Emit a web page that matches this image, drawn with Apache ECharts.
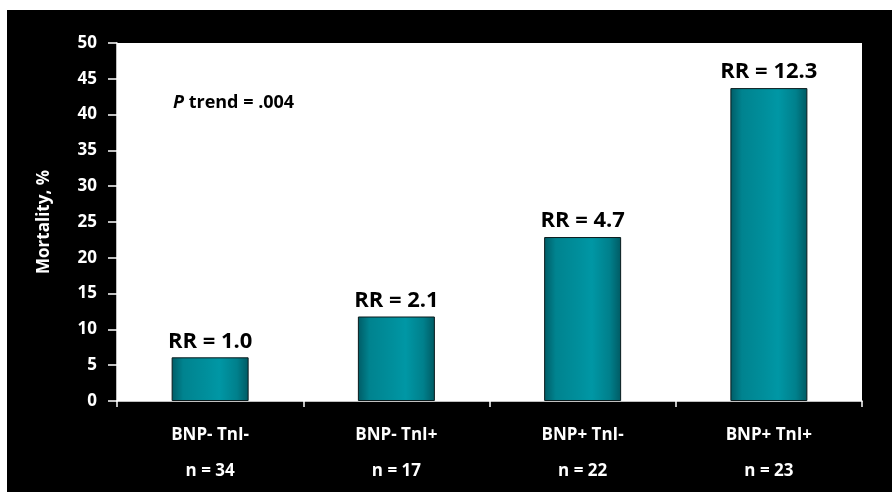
<!DOCTYPE html>
<html>
<head>
<meta charset="utf-8">
<script src="https://cdn.jsdelivr.net/npm/echarts@6/dist/echarts.min.js"></script>
<style>
  html, body { margin: 0; padding: 0; background: #ffffff; width: 892px; height: 492px; overflow: hidden; }
  #chart { position: absolute; left: 7px; top: 10px; width: 885px; height: 482px; }
</style>
</head>
<body>
<div id="chart"></div>
<script>
// Groups by BNP / troponin I status, with group sizes
const groups = ['BNP- TnI-', 'BNP- TnI+', 'BNP+ TnI-', 'BNP+ TnI+'];
const groupSizes = [34, 17, 22, 23];
// Mortality (%) per group
const mortality = [6.1, 11.8, 22.9, 43.7];
// Relative risk labels per group
const relativeRisk = ['1.0', '2.1', '4.7', '12.3'];
// Y axis ticks
const yMin = 0, yMax = 50, yStep = 5;

const font = '"Open Sans", "Noto Sans", "DejaVu Sans", sans-serif';
const categories = groups.map((g, i) => g + '\n' + 'n = ' + groupSizes[i]);

const chart = echarts.init(document.getElementById('chart'));
chart.setOption({
  backgroundColor: '#000000',
  animation: false,
  title: {
    text: '{p|P} trend = .004',
    left: 161,
    top: 79,
    textStyle: {
      rich: {
        p: { fontFamily: font, fontSize: 18, fontWeight: 'bold', fontStyle: 'italic', color: '#000' }
      },
      fontFamily: font, fontSize: 18, fontWeight: 'bold', color: '#000'
    }
  },
  grid: {
    left: 110, right: 30, top: 33, bottom: 91,
    show: true, backgroundColor: '#ffffff', borderWidth: 0
  },
  xAxis: {
    type: 'category',
    data: categories,
    axisLine: { show: true, lineStyle: { color: '#ffffff', width: 1.5 } },
    axisTick: { show: true, length: 6, lineStyle: { color: '#ffffff', width: 1.5 } },
    axisLabel: {
      color: '#ffffff', fontFamily: font, fontSize: 17, fontWeight: 'bold',
      lineHeight: 36, margin: 16, interval: 0
    },
    splitLine: { show: false }
  },
  yAxis: {
    type: 'value',
    min: yMin, max: yMax, interval: yStep,
    name: 'Mortality, %',
    nameLocation: 'middle',
    nameGap: 64,
    nameTextStyle: { color: '#ffffff', fontFamily: font, fontSize: 17, fontWeight: 'bold' },
    axisLine: { show: true, lineStyle: { color: '#ffffff', width: 1.5 } },
    axisTick: { show: true, length: 9, inside: false, lineStyle: { color: '#ffffff', width: 1.5 } },
    axisLabel: { color: '#ffffff', fontFamily: font, fontSize: 17, fontWeight: 'bold', margin: 20 },
    splitLine: { show: false }
  },
  series: [{
    type: 'bar',
    data: mortality,
    barWidth: 77,
    itemStyle: {
      color: new echarts.graphic.LinearGradient(0, 0, 1, 0, [
        { offset: 0, color: '#005c66' },
        { offset: 0.15, color: '#00838f' },
        { offset: 0.45, color: '#008f9c' },
        { offset: 0.62, color: '#0097a5' },
        { offset: 0.85, color: '#00808c' },
        { offset: 1, color: '#005a63' }
      ]),
      borderColor: '#0a1a1c',
      borderWidth: 1
    },
    label: {
      show: true,
      position: 'top',
      distance: 5,
      color: '#000000',
      fontFamily: font,
      fontSize: 22,
      fontWeight: 'bold',
      formatter: (p) => 'RR = ' + relativeRisk[p.dataIndex]
    }
  }]
});
</script>
</body>
</html>
